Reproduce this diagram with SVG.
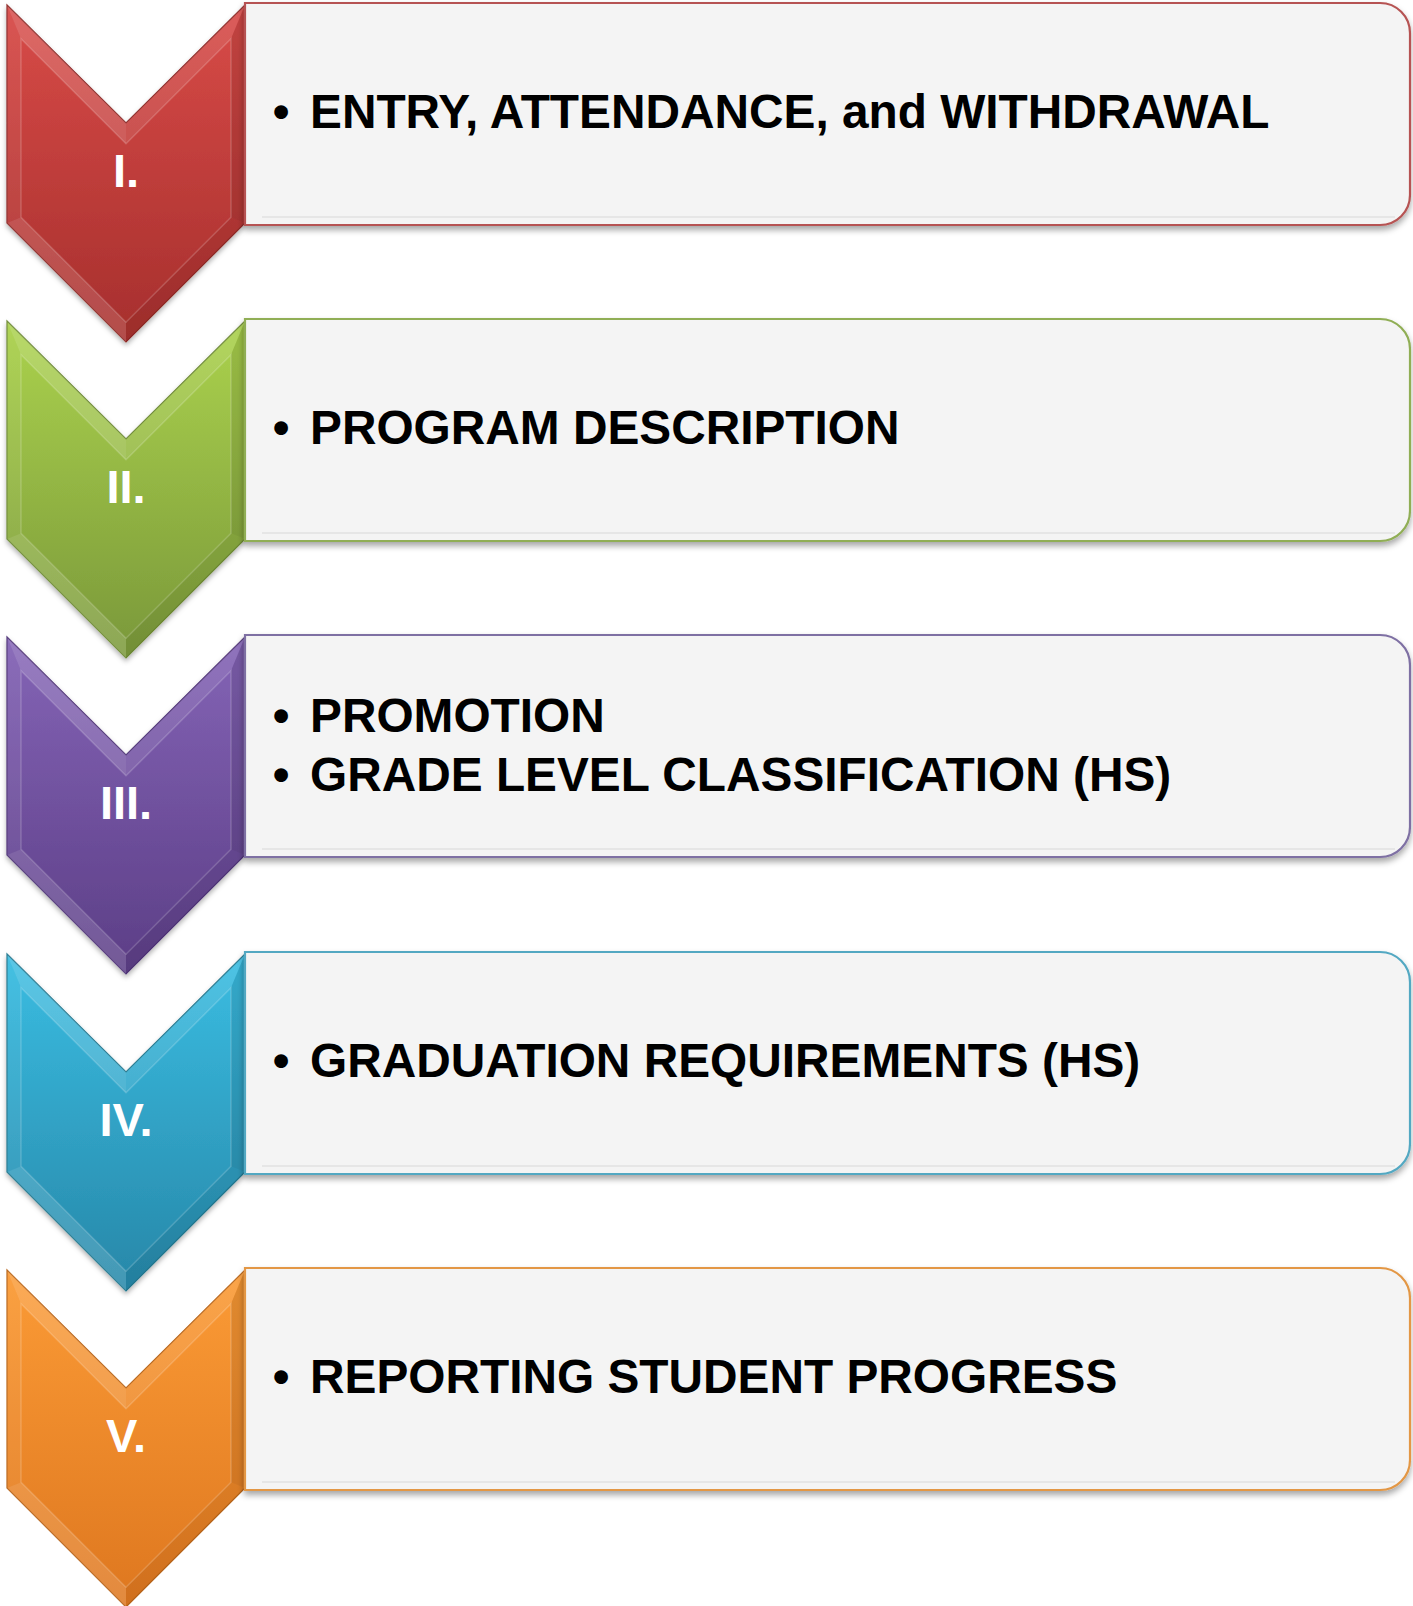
<svg xmlns="http://www.w3.org/2000/svg" width="1413" height="1606" viewBox="0 0 1413 1606">
<style>
.box{fill:#f4f4f4;stroke-width:2.2;filter:url(#sh)}
.num{font-family:"Liberation Sans",Arial,sans-serif;font-weight:bold;font-size:47px;fill:#ffffff;text-anchor:middle}
.lbl{font-family:"Liberation Sans",Arial,sans-serif;font-weight:bold;font-size:47.8px;fill:#000000}
.hl{fill:#ffffff}
.dk{fill:#000000}
.inl{fill:none;stroke:#ffffff;stroke-opacity:0.18;stroke-width:1.5}
</style>
<defs>
<filter id="sh" x="-5%" y="-10%" width="110%" height="130%">
<feDropShadow dx="0" dy="4" stdDeviation="3" flood-color="#000" flood-opacity="0.35"/>
</filter>
<filter id="csh" x="-10%" y="-10%" width="120%" height="120%">
<feDropShadow dx="0" dy="3" stdDeviation="2.5" flood-color="#000" flood-opacity="0.3"/>
</filter>
<linearGradient id="gR" x1="0" y1="0" x2="0" y2="1"><stop offset="0" stop-color="#D84B48"/><stop offset="1" stop-color="#A62F2D"/></linearGradient>
<linearGradient id="gG" x1="0" y1="0" x2="0" y2="1"><stop offset="0" stop-color="#ABD24D"/><stop offset="1" stop-color="#7A983A"/></linearGradient>
<linearGradient id="gP" x1="0" y1="0" x2="0" y2="1"><stop offset="0" stop-color="#8464B6"/><stop offset="1" stop-color="#5C3E86"/></linearGradient>
<linearGradient id="gB" x1="0" y1="0" x2="0" y2="1"><stop offset="0" stop-color="#3ABDE2"/><stop offset="1" stop-color="#2787A8"/></linearGradient>
<linearGradient id="gO" x1="0" y1="0" x2="0" y2="1"><stop offset="0" stop-color="#FB9B36"/><stop offset="1" stop-color="#DE771F"/></linearGradient>
<g id="bevel">
<polygon class="hl" fill-opacity="0.16" points="7,0 126,118 126,138.8 21,33.8"/>
<polygon class="hl" fill-opacity="0.10" points="126,118 245,0 231,33.8 126,138.8"/>
<polygon class="hl" fill-opacity="0.06" points="7,0 21,33.8 21,212.2 7,218"/>
<polygon class="dk" fill-opacity="0.10" points="245,0 245,218 231,212.2 231,33.8"/>
<polygon class="hl" fill-opacity="0.14" points="7,218 21,212.2 126,317.2 126,337"/>
<polygon class="dk" fill-opacity="0.06" points="126,337 126,317.2 231,212.2 245,218"/>
<polygon class="inl" points="21,33.8 126,138.8 231,33.8 231,212.2 126,317.2 21,212.2"/>
</g>
</defs>

<g id="node1">
<polygon points="7,5 126,123 245,5 245,223 126,342 7,223" fill="url(#gR)" stroke="#8E2A28" stroke-width="1.2" filter="url(#csh)"/>
<use href="#bevel" transform="translate(0,5)"/>
<text class="num" x="126" y="187">I.</text>
<path d="M245,3 H1380 A30,30 0 0 1 1410,33 V195 A30,30 0 0 1 1380,225 H245 Z" class="box" stroke="#B65352"/>
<line x1="262" y1="217" x2="1395" y2="217" stroke="#e6e6e6" stroke-width="2"/>
<text class="lbl" x="281" y="128" text-anchor="middle">•</text>
<text class="lbl" x="310" y="128">ENTRY, ATTENDANCE, and WITHDRAWAL</text>
</g>

<g id="node2" transform="translate(0,316)">
<polygon points="7,5 126,123 245,5 245,223 126,342 7,223" fill="url(#gG)" stroke="#6E8A35" stroke-width="1.2" filter="url(#csh)"/>
<use href="#bevel" transform="translate(0,5)"/>
<text class="num" x="126" y="187">II.</text>
<path d="M245,3 H1380 A30,30 0 0 1 1410,33 V195 A30,30 0 0 1 1380,225 H245 Z" class="box" stroke="#90AE55"/>
<line x1="262" y1="217" x2="1395" y2="217" stroke="#e6e6e6" stroke-width="2"/>
<text class="lbl" x="281" y="128" text-anchor="middle">•</text>
<text class="lbl" x="310" y="128">PROGRAM DESCRIPTION</text>
</g>

<g id="node3" transform="translate(0,632)">
<polygon points="7,5 126,123 245,5 245,223 126,342 7,223" fill="url(#gP)" stroke="#503578" stroke-width="1.2" filter="url(#csh)"/>
<use href="#bevel" transform="translate(0,5)"/>
<text class="num" x="126" y="187">III.</text>
<path d="M245,3 H1380 A30,30 0 0 1 1410,33 V195 A30,30 0 0 1 1380,225 H245 Z" class="box" stroke="#7E6FA3"/>
<line x1="262" y1="217" x2="1395" y2="217" stroke="#e6e6e6" stroke-width="2"/>
<text class="lbl" x="281" y="100" text-anchor="middle">•</text>
<text class="lbl" x="310" y="100">PROMOTION</text>
<text class="lbl" x="281" y="159" text-anchor="middle">•</text>
<text class="lbl" x="310" y="159">GRADE LEVEL CLASSIFICATION (HS)</text>
</g>

<g id="node4" transform="translate(0,949)">
<polygon points="7,5 126,123 245,5 245,223 126,342 7,223" fill="url(#gB)" stroke="#23788F" stroke-width="1.2" filter="url(#csh)"/>
<use href="#bevel" transform="translate(0,5)"/>
<text class="num" x="126" y="187">IV.</text>
<path d="M245,3 H1380 A30,30 0 0 1 1410,33 V195 A30,30 0 0 1 1380,225 H245 Z" class="box" stroke="#52A8C2"/>
<line x1="262" y1="217" x2="1395" y2="217" stroke="#e6e6e6" stroke-width="2"/>
<text class="lbl" x="281" y="128" text-anchor="middle">•</text>
<text class="lbl" x="310" y="128">GRADUATION REQUIREMENTS (HS)</text>
</g>

<g id="node5" transform="translate(0,1265)">
<polygon points="7,5 126,123 245,5 245,223 126,342 7,223" fill="url(#gO)" stroke="#B86418" stroke-width="1.2"/>
<use href="#bevel" transform="translate(0,5)"/>
<text class="num" x="126" y="187">V.</text>
<path d="M245,3 H1380 A30,30 0 0 1 1410,33 V195 A30,30 0 0 1 1380,225 H245 Z" class="box" stroke="#E39745"/>
<line x1="262" y1="217" x2="1395" y2="217" stroke="#e6e6e6" stroke-width="2"/>
<text class="lbl" x="281" y="128" text-anchor="middle">•</text>
<text class="lbl" x="310" y="128">REPORTING STUDENT PROGRESS</text>
</g>

<g id="connectors"></g>
</svg>
